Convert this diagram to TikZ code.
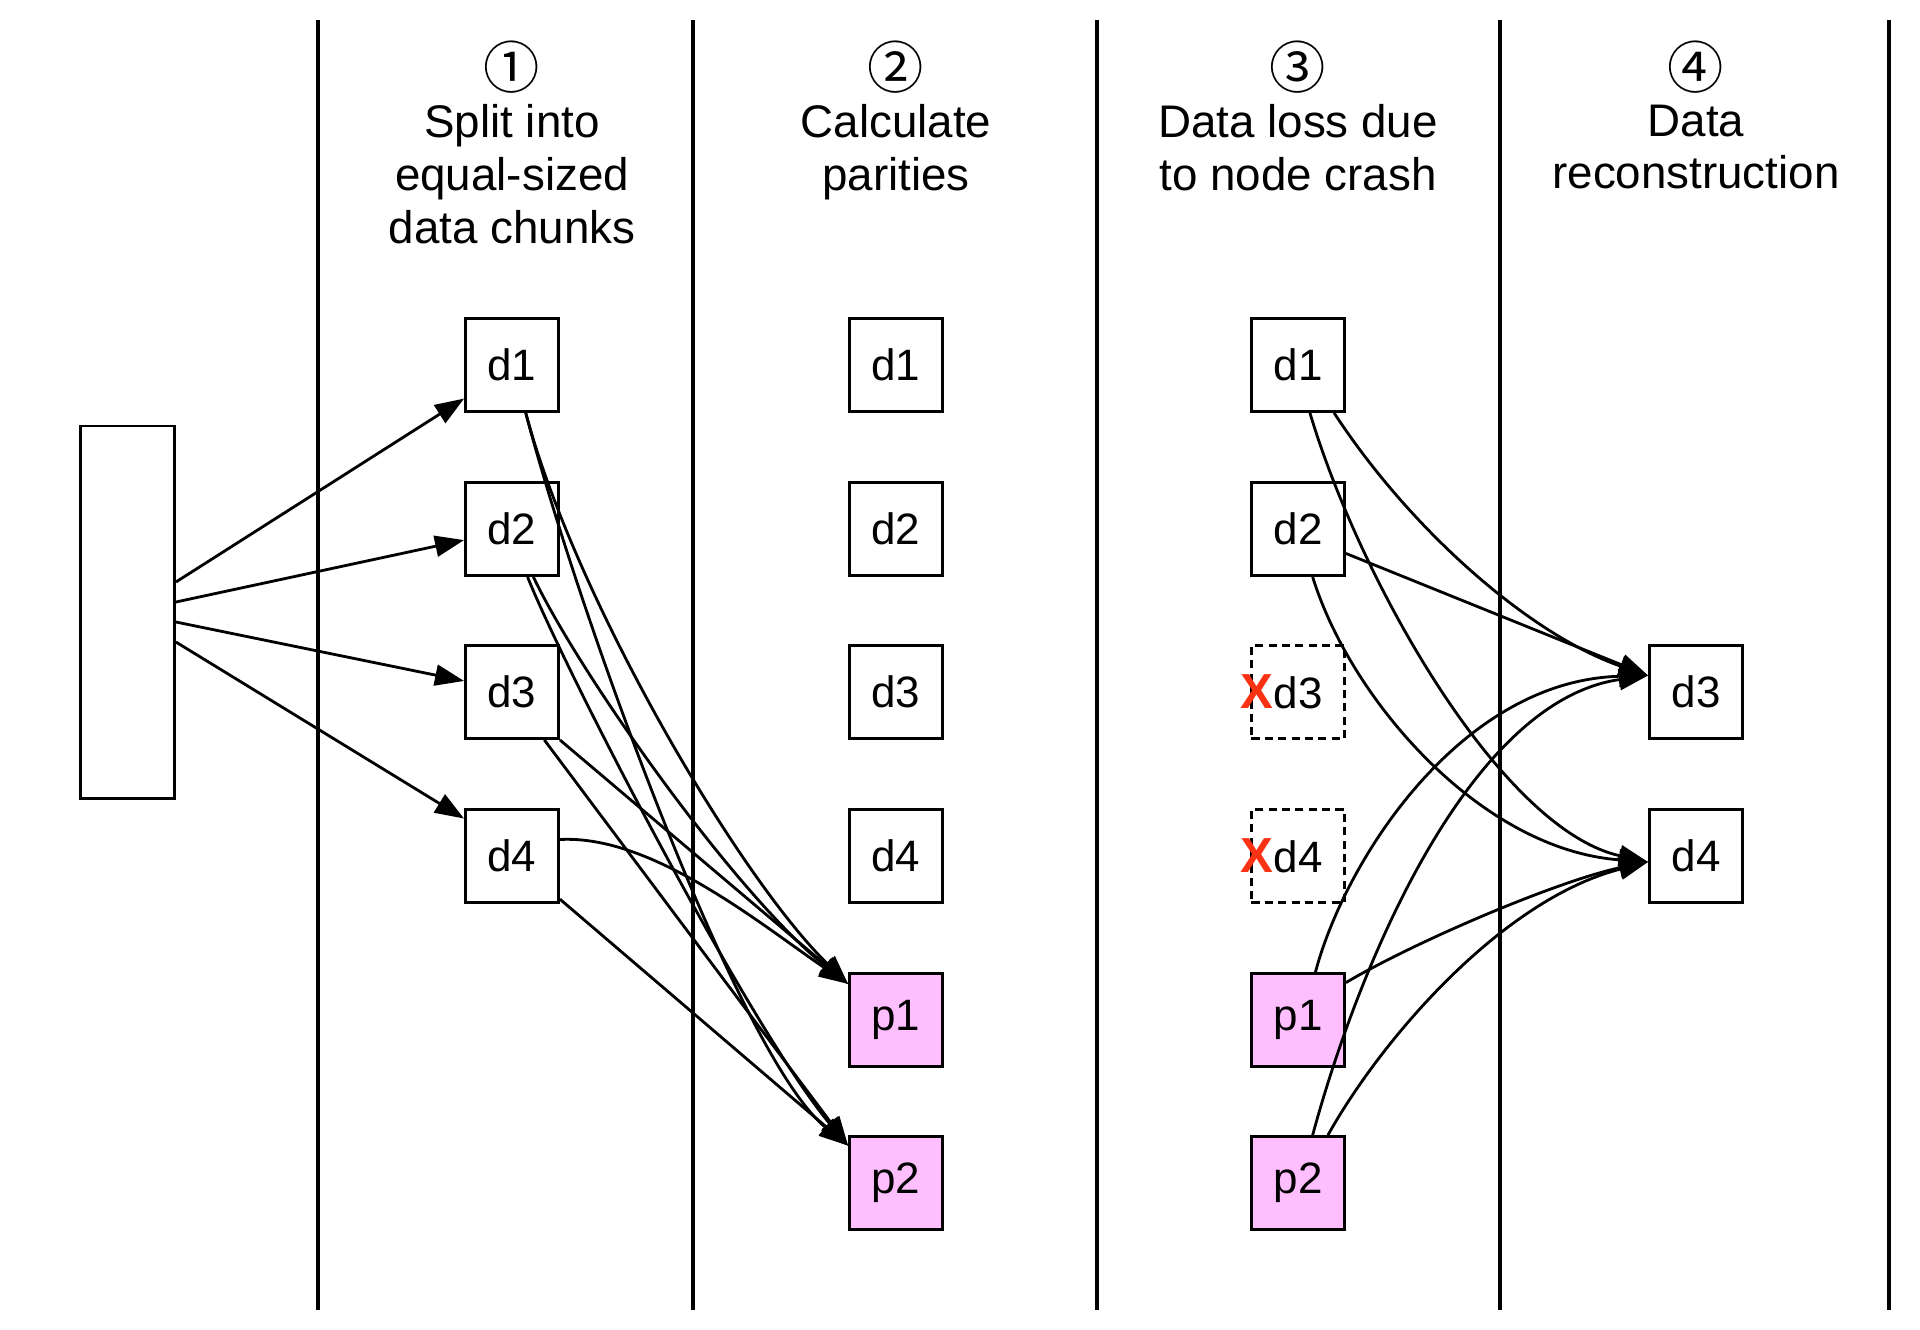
\documentclass[tikz,border=0pt]{standalone}
\usepackage{fontspec}
\setmainfont{Liberation Sans}
\newfontfamily\circfont{Noto Sans CJK SC}
\usetikzlibrary{positioning,arrows.meta}
\definecolor{paritypink}{RGB}{255,191,255}
\definecolor{crashred}{RGB}{250,50,20}

\begin{document}
\begin{tikzpicture}[x=0.01cm,y=-0.01cm,
  every node/.style={font=\fontsize{12.5}{15}\selectfont},
  chunk/.style={draw,line width=0.8pt,minimum size=0.93cm,inner sep=0pt},
  parity/.style={chunk,fill=paritypink},
  lost/.style={chunk,dash pattern=on 2.3pt off 1.5pt},
  num/.style={inner sep=0pt,font=\circfont\fontsize{16}{16}\selectfont},
  head/.style={align=center,anchor=north,inner sep=0pt,font=\fontsize{13}{15}\selectfont},
  link/.style={-{Triangle[length=2.9mm,width=2.1mm]},line width=0.8pt},
  sep/.style={line width=0.9pt}
]
  \useasboundingbox (0,0) rectangle (1920,1329);

  % phase separators
  \foreach \x in {318,693,1097,1500,1889} \draw[sep] (\x,20) -- (\x,1310);

  % headings
  \foreach \n/\x in {1/512,2/896,3/1298,4/1696}
    \node[num] (n\n) at (\x,67) {\ifcase\n\or ①\or ②\or ③\or ④\fi};
  \node[head] (h1) at (512,104)  {Split into\\equal-sized\\data chunks};
  \node[head] (h2) at (896,104)  {Calculate\\parities};
  \node[head] (h3) at (1298,104) {Data loss due\\to node crash};
  \node[head] (h4) at (1696,104) {Data\\reconstruction};

  % original data
  \node[draw,line width=0.8pt,minimum width=0.94cm,minimum height=3.72cm,inner sep=0pt] (src) at (127.5,612) {};

  % data chunks
  \foreach \i/\y in {1/365,2/529,3/692,4/856} {
    \node[chunk] (c1d\i) at (512,\y) {d\i};
    \node[chunk] (c2d\i) at (896,\y) {d\i};
  }
  \node[parity] (c2p1) at (896,1020) {p1};
  \node[parity] (c2p2) at (896,1183) {p2};

  \node[chunk]  (c3d1) at (1298,365) {d1};
  \node[chunk]  (c3d2) at (1298,529) {d2};
  \node[lost]   (c3d3) at (1298,692) {\llap{\color{crashred}\fontsize{14}{14}\selectfont\bfseries X}d3};
  \node[lost]   (c3d4) at (1298,856) {\llap{\color{crashred}\fontsize{14}{14}\selectfont\bfseries X}d4};
  \node[parity] (c3p1) at (1298,1020) {p1};
  \node[parity] (c3p2) at (1298,1183) {p2};

  \node[chunk] (c4d3) at (1696,692) {d3};
  \node[chunk] (c4d4) at (1696,856) {d4};

  % split
  \foreach \i/\s/\a in {1/3mm/215,2/1mm/193,3/-1mm/167,4/-3mm/142}
    \draw[link] ([yshift=\s]src.east) -- (c1d\i.\a);

  % parities
  \draw[link] (c1d1.286) .. controls +(50,188) and +(-108,-105) .. (c2p1.143);
  \draw[link] (c1d1.286) .. controls +(55,208) and +(-108,-87) .. (c2p2.142);
  \draw[link] (c1d2.294) .. controls +(50,104) and +(-108,-85) .. (c2p1.143);
  \draw[link] (c1d2.288) .. controls +(37,93) and +(-98,-117) .. (c2p2.142);
  \draw[link] (c1d3.315) -- (c2p1.143);
  \draw[link] (c1d3.304) -- (c2p2.142);
  \draw[link] (c1d4.19) .. controls +(92,-5) and +(-88,-60) .. (c2p1.143);
  \draw[link] (c1d4.318) -- (c2p2.142);

  % reconstruction
  \draw[link] (c3d1.307) .. controls +(77,118) and +(-117,-40) .. (c4d3.161);
  \draw[link] (c3d2.333) -- (c4d3.161);
  \draw[link] (c3p1.70) .. controls +(30,-113) and +(-187,5) .. (c4d3.161);
  \draw[link] (c3p2.73) .. controls +(48,-177) and +(-177,25) .. (c4d3.161);
  \draw[link] (c3d1.284) .. controls +(50,168) and +(-147,-32) .. (c4d4.187);
  \draw[link] (c3d2.287) .. controls +(38,123) and +(-167,-12) .. (c4d4.187);
  \draw[link] (c3p1.38) .. controls +(73,-43) and +(-87,18) .. (c4d4.187);
  \draw[link] (c3p2.58) .. controls +(53,-95) and +(-147,38) .. (c4d4.187);
\end{tikzpicture}
\end{document}
